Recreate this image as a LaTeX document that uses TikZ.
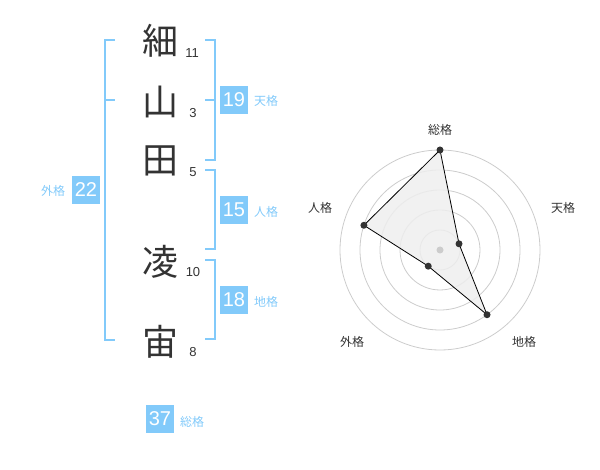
\documentclass[tikz,border=0pt]{standalone}
\usepackage{fontspec}
\usetikzlibrary{calc}
\setmainfont{Liberation Sans}
\newfontfamily\jp{Noto Sans CJK JP}
\definecolor{brk}{RGB}{130,202,250}
\definecolor{ink}{RGB}{51,51,51}
\definecolor{ring}{RGB}{204,204,204}
\definecolor{polyfill}{RGB}{238,238,238}
\begin{document}
\begin{tikzpicture}[x=1pt,y=-1pt,
  kanji/.style={text=ink,font=\jp\fontsize{36}{36}\selectfont,inner sep=0pt},
  num/.style={text=ink,font=\fontsize{13}{13}\selectfont,inner sep=0pt},
  box/.style={fill=brk,text=white,font=\fontsize{20}{20}\selectfont,minimum width=28pt,minimum height=28pt,inner sep=0pt},
  lbl/.style={text=brk,font=\jp\fontsize{12}{12}\selectfont,inner sep=0pt},
  brline/.style={draw=brk,line width=2pt},
  ringline/.style={draw=ring,line width=0.8pt},
  axlbl/.style={text=ink,font=\jp\fontsize{12}{12}\selectfont,inner sep=0pt},
  dot/.style={circle,fill=ink,inner sep=0pt,minimum size=7pt}]
\useasboundingbox (0,0) rectangle (600,470);
% kanji
\node[kanji] (k1) at (160,41) {細};
\node[kanji] (k2) at (160,102) {山};
\node[kanji] (k3) at (160,161) {田};
\node[kanji] (k4) at (160,262) {凌};
\node[kanji] (k5) at (160,342) {宙};
\node[num] (n1) at (192,53) {11};
\node[num] (n2) at (193,113) {3};
\node[num] (n3) at (193,172) {5};
\node[num] (n4) at (193,272) {10};
\node[num] (n5) at (193,352) {8};
% left bracket (外格)
\coordinate (L1) at (115,40); \coordinate (L2) at (105,40);
\coordinate (L3) at (105,340); \coordinate (L4) at (115,340);
\coordinate (Lm1) at (105,100); \coordinate (Lm2) at (115,100);
\draw[brline] (L1) -- (L2) -- (L3) -- (L4);
\draw[brline] (Lm1) -- (Lm2);
% right bracket 天格
\coordinate (T1) at (205,40); \coordinate (T2) at (215,40);
\coordinate (T3) at (215,160); \coordinate (T4) at (205,160);
\coordinate (Tm1) at (215,100); \coordinate (Tm2) at (205,100);
\draw[brline] (T1) -- (T2) -- (T3) -- (T4);
\draw[brline] (Tm1) -- (Tm2);
% right bracket 人格
\coordinate (J1) at (205,170); \coordinate (J2) at (215,170);
\coordinate (J3) at (215,249); \coordinate (J4) at (205,249);
\draw[brline] (J1) -- (J2) -- (J3) -- (J4);
% right bracket 地格
\coordinate (C1) at (205,260); \coordinate (C2) at (215,260);
\coordinate (C3) at (215,339); \coordinate (C4) at (205,339);
\draw[brline] (C1) -- (C2) -- (C3) -- (C4);
% boxes and labels
\node[box] (b22) at (86,190) {22};
\node[lbl] (l22) at (53,191) {外格};
\node[box] (b19) at (234,100) {19};
\node[lbl] (l19) at (266,101) {天格};
\node[box] (b15) at (234,210) {15};
\node[lbl] (l15) at (266,212) {人格};
\node[box] (b18) at (234,300) {18};
\node[lbl] (l18) at (266,302) {地格};
\node[box] (b37) at (160,419) {37};
\node[lbl] (l37) at (192,422) {総格};
% radar
\coordinate (O) at (440,250);
\foreach \r in {20,40,60,80,100} \draw[ringline] (O) circle[radius=\r];
\coordinate (P1) at ($(O)+(-90:100)$);
\coordinate (P2) at ($(O)+(-18:20)$);
\coordinate (P3) at ($(O)+(54:80)$);
\coordinate (P4) at ($(O)+(126:20)$);
\coordinate (P5) at ($(O)+(198:80)$);
\fill[polyfill,opacity=0.85] (P1) -- (P2) -- (P3) -- (P4) -- (P5) -- cycle;
\draw[black,line width=0.8pt] (P1) -- (P2) -- (P3) -- (P4) -- (P5) -- cycle;
\fill[ring] (O) circle[radius=3.5];
\foreach \p in {P1,P2,P3,P4,P5} \node[dot] at (\p) {};
\node[axlbl] (a1) at (440,130) {総格};
\node[axlbl] (a2) at (563,208) {天格};
\node[axlbl] (a3) at (524,342) {地格};
\node[axlbl] (a4) at (352,342) {外格};
\node[axlbl] (a5) at (320,208) {人格};
\end{tikzpicture}
\end{document}
